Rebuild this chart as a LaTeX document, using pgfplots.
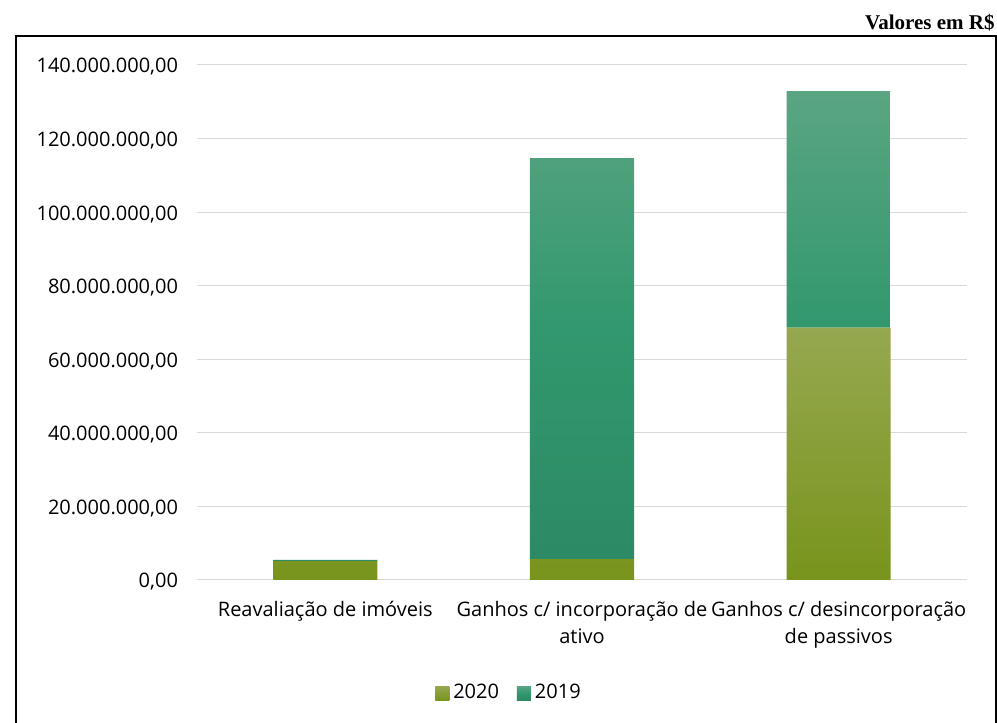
\documentclass[border=0pt]{standalone}
\usepackage{pgfplots}
\pgfplotsset{compat=1.18}
\usepackage{fontspec}
\setmainfont{Open Sans}
\newfontfamily\titlefont{Liberation Serif}
\definecolor{gA}{RGB}{150,168,80}
\definecolor{gB}{RGB}{120,148,28}
\definecolor{tA}{RGB}{90,165,130}
\definecolor{tM}{RGB}{50,152,110}
\definecolor{tB}{RGB}{44,138,100}
\definecolor{gridc}{RGB}{217,217,217}
\begin{document}
\begin{tikzpicture}
\useasboundingbox (0,0) rectangle (498.5pt,361.5pt);
\draw[line width=1pt] (8pt,-1pt) -- (8pt,343.5pt) -- (498pt,343.5pt) -- (498pt,-1pt);
\node[anchor=base east, inner sep=0pt, font=\titlefont\bfseries\fontsize{10.5}{12}\selectfont] at (497.5pt,346.5pt) {Valores em R\$};
\begin{axis}[
  at={(98.5pt,71.5pt)}, anchor=south west,
  scale only axis, width=385pt, height=257.5pt,
  ybar stacked, bar width=52pt,
  xmin=-0.5, xmax=2.5, ymin=0, ymax=140e6,
  axis line style={draw=none},
  tick style={draw=none},
  ymajorgrids, major grid style={gridc, line width=0.5pt},
  ytick={0,20e6,40e6,60e6,80e6,100e6,120e6,140e6},
  yticklabels={{0,00},{20.000.000,00},{40.000.000,00},{60.000.000,00},{80.000.000,00},{100.000.000,00},{120.000.000,00},{140.000.000,00}},
  scaled y ticks=false,
  extra y ticks={0}, extra y tick labels={},
  extra y tick style={grid style={gridc, line width=1.3pt}},
  xtick={0,1,2},
  xticklabels={{Reavaliação de imóveis},{Ganhos c/ incorporação de\\ativo},{Ganhos c/ desincorporação\\de passivos}},
  xticklabel style={align=center, font=\fontsize{10}{13.5}\selectfont, yshift=-7pt},
  yticklabel style={font=\fontsize{10}{12}\selectfont, xshift=-6pt, yshift=-1pt},
  legend style={at={(0.4065,-0.2195)}, anchor=center, draw=none, legend columns=2, font=\fontsize{10}{12}\selectfont, /tikz/every even column/.append style={column sep=7pt}},
  legend image code/.code={\path[#1] (0pt,-3.5pt) rectangle (7pt,3.5pt);},
]
\addplot[draw=none, top color=gA, bottom color=gB] coordinates {(0,5.1e6) (1,5.7e6) (2,68.6e6)};
\addplot[draw=none, top color=tA, bottom color=tB, middle color=tM] coordinates {(0,0.35e6) (1,109e6) (2,64.3e6)};
\legend{2020,2019}
\end{axis}
\end{tikzpicture}
\end{document}
